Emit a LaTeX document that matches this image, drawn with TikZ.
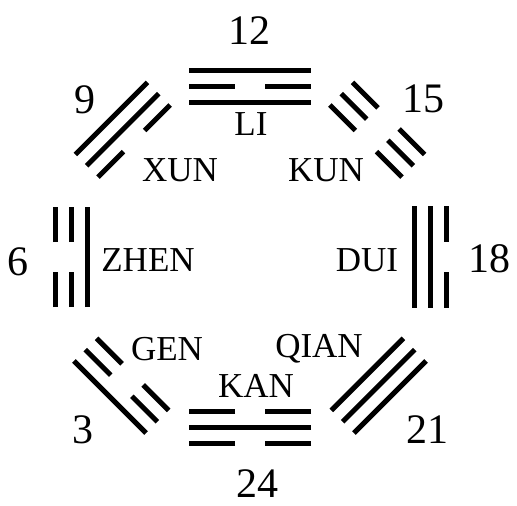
\documentclass[tikz,border=0pt]{standalone}
\usepackage{fontspec}
\setmainfont{Liberation Serif}
\usepackage{tikz}

\newcommand{\yaogap}{16}
\newcommand{\yaobreak}{15}
% #1 angle, #2 outer radius, #3 half length, #4-#6 outer/middle/inner line (1 solid, 0 broken)
\newcommand{\trigram}[6]{%
  \begin{scope}[shift={(250,257)}, rotate=#1]
    \foreach \t [count=\i from 0] in {#4,#5,#6} {
      \pgfmathsetmacro{\ry}{-(#2)+\i*\yaogap}
      \ifnum\t=1
        \draw[yao] (-#3,\ry) -- (#3,\ry);
      \else
        \draw[yao] (-#3,\ry) -- (-\yaobreak,\ry) (\yaobreak,\ry) -- (#3,\ry);
      \fi
    }
  \end{scope}}

\begin{document}
\begin{tikzpicture}[
  x=1pt, y=-1pt,
  yao/.style={line width=5pt, black},
  trilabel/.style={inner sep=0pt, font=\fontsize{35}{40}\selectfont},
  num/.style={inner sep=0pt, font=\fontsize{42}{46}\selectfont}
]
  \useasboundingbox (0,0) rectangle (517,506);

  \trigram{0}{187}{61}{1}{0}{1}   % li
  \trigram{315}{196}{51}{0}{0}{0} % kun
  \trigram{270}{196}{51}{0}{1}{1} % dui
  \trigram{225}{198}{51}{1}{1}{1} % qian
  \trigram{180}{186}{61}{0}{1}{0} % kan
  \trigram{135}{198}{51}{1}{0}{0} % gen
  \trigram{90}{195}{50}{0}{0}{1}  % zhen
  \trigram{45}{196}{51}{1}{1}{0}  % xun

  \node[trilabel] (li)   at (251,124) {LI};
  \node[trilabel] (kun)  at (326,170) {KUN};
  \node[trilabel] (dui)  at (367,260) {DUI};
  \node[trilabel] (qian) at (319,349) {QIAN};
  \node[trilabel] (kan)  at (256,386) {KAN};
  \node[trilabel] (gen)  at (167,349) {GEN};
  \node[trilabel] (zhen) at (148,260) {ZHEN};
  \node[trilabel] (xun)  at (180,170) {XUN};

  \node[num] (n12) at (249,31)  {12};
  \node[num] (n15) at (423,99)  {15};
  \node[num] (n18) at (489,259) {18};
  \node[num] (n21) at (427,430) {21};
  \node[num] (n24) at (257,484) {24};
  \node[num] (n3)  at (83,430)  {3};
  \node[num] (n6)  at (18,262)  {6};
  \node[num] (n9)  at (85,100)  {9};
\end{tikzpicture}
\end{document}
